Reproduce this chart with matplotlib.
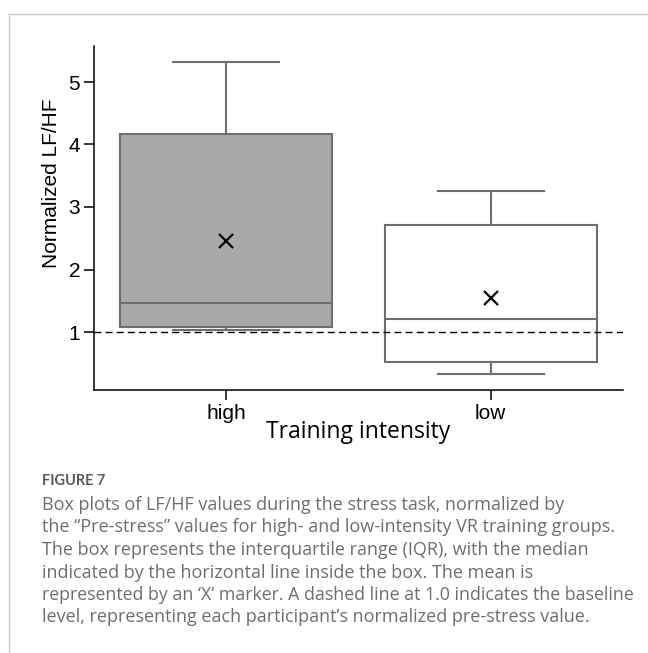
import matplotlib
matplotlib.use("Agg")
import matplotlib.pyplot as plt
from matplotlib.lines import Line2D

# values
groups = ["high", "low"]
q1 = [1.075, 0.515]
medians = [1.46, 1.215]
q3 = [4.165, 2.705]
whisker_low = [1.04, 0.325]
whisker_high = [5.315, 3.25]
means = [2.46, 1.55]
box_colors = ["#a9a9a9", "#ffffff"]
baseline = 1.0

caption_title = "FIGURE 7"
caption_lines = [
    "Box plots of LF/HF values during the stress task, normalized by",
    "the \u201cPre-stress\u201d values for high- and low-intensity VR training groups.",
    "The box represents the interquartile range (IQR), with the median",
    "indicated by the horizontal line inside the box. The mean is",
    "represented by an \u2018X\u2019 marker. A dashed line at 1.0 indicates the baseline",
    "level, representing each participant\u2019s normalized pre-stress value.",
]
# line 5 is set tighter in the original
caption_sizes = [13, 13, 13, 13, 12.75, 13]

W, H = 648, 653
fig = plt.figure(figsize=(W / 100, H / 100), dpi=100)
ax = fig.add_axes([94 / W, 1 - 390 / H, (623 - 94) / W, (390 - 46) / H])

stats = []
for i in range(len(groups)):
    stats.append({"label": groups[i], "q1": q1[i], "med": medians[i], "q3": q3[i],
                  "whislo": whisker_low[i], "whishi": whisker_high[i],
                  "mean": means[i], "fliers": []})

edge = "#6e6e6e"
bp = ax.bxp(stats, positions=range(len(groups)), widths=0.8, capwidths=0.4,
            patch_artist=True, showmeans=True, showfliers=False,
            boxprops=dict(edgecolor=edge, linewidth=1.5),
            medianprops=dict(color=edge, linewidth=1.5),
            whiskerprops=dict(color=edge, linewidth=1.5),
            capprops=dict(color=edge, linewidth=1.5),
            meanprops=dict(marker="x", markeredgecolor="black", markersize=10,
                           markeredgewidth=1.6, linestyle="none"))
for patch, c in zip(bp["boxes"], box_colors):
    patch.set_facecolor(c)

ax.axhline(baseline, color="black", linewidth=1.0, dashes=(5, 3), zorder=5)

ax.set_xlim(-0.5, 1.5)
ax.set_ylim(0.072, 5.576)
ax.set_yticks([1, 2, 3, 4, 5])
ax.spines["top"].set_visible(False)
ax.spines["right"].set_visible(False)
for s in ["left", "bottom"]:
    ax.spines[s].set_linewidth(1.1)
ax.tick_params(axis="both", length=7, width=1.1, labelsize=15, pad=3)
for lab in ax.get_xticklabels() + ax.get_yticklabels():
    lab.set_fontfamily("Liberation Sans")

ax.set_ylabel("Normalized LF/HF", fontsize=15, family="Liberation Sans")
ax.yaxis.set_label_coords(-0.062, 0.6)
ax.set_xlabel("Training intensity", fontsize=16.5, family="Open Sans", va="baseline")
ax.xaxis.set_label_coords(0.5, -(438 - 390) / (390 - 46))

# frame around the figure panel
fig.add_artist(Line2D([9 / W, 1], [1 - 14 / H, 1 - 14 / H], color="#c8c8c8", linewidth=1.0))
fig.add_artist(Line2D([9 / W, 9 / W], [0, 1 - 14 / H], color="#c8c8c8", linewidth=1.0))

# caption
fig.text(42 / W, 1 - 485 / H, caption_title, fontsize=10.5, fontweight="bold",
         color="#5a5a5a", family="Lato", va="baseline")
for k, line in enumerate(caption_lines):
    fig.text(42 / W, 1 - (510 + 22.5 * k) / H, line, fontsize=caption_sizes[k],
             color="#6e6e6e", family="Open Sans", va="baseline")

fig.savefig("out.png", dpi=100)
